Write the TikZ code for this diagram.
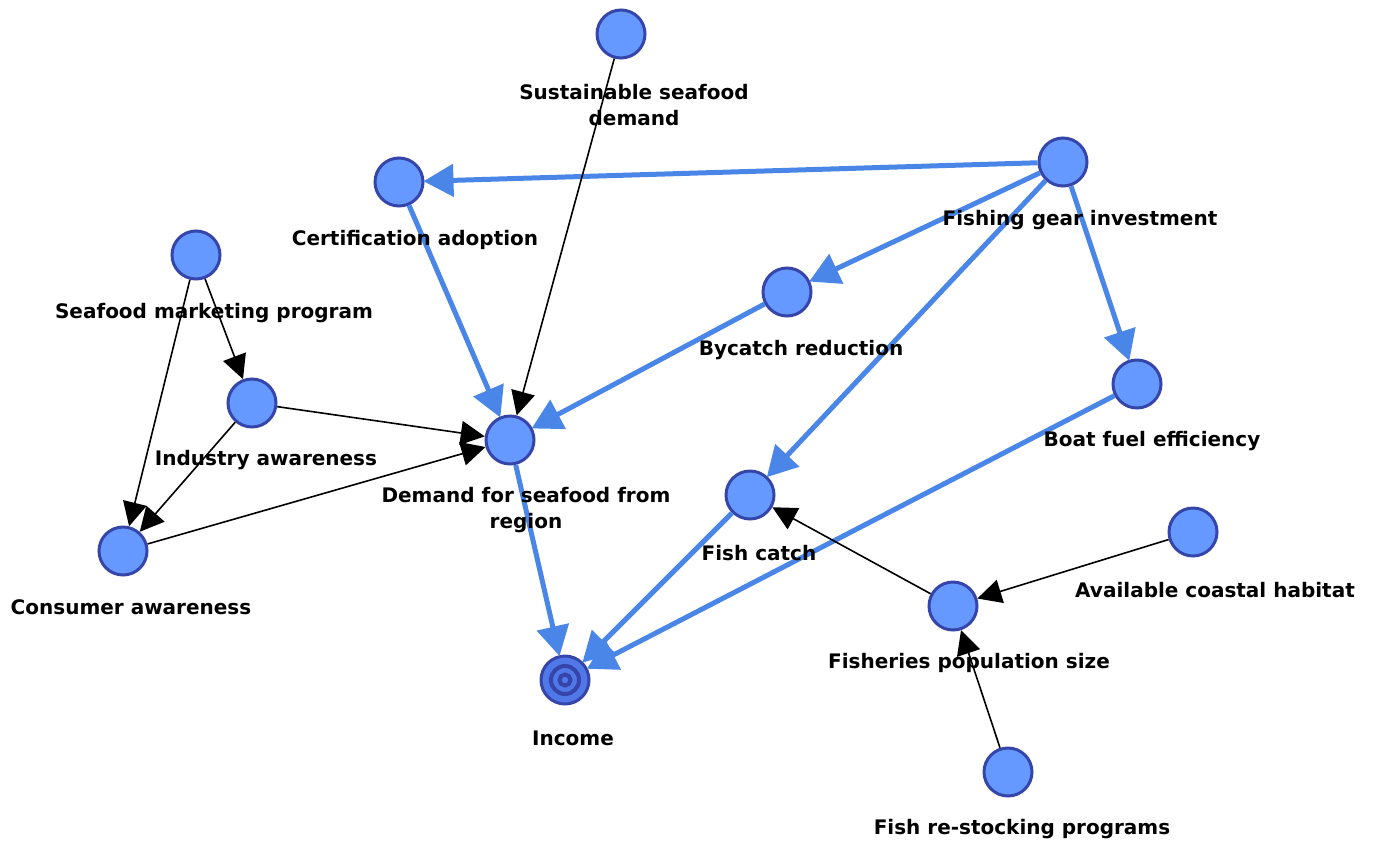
\documentclass[tikz,border=0pt]{standalone}
\usepackage{fontspec}
\setmainfont{DejaVu Sans}
\usetikzlibrary{arrows.meta}

\definecolor{nodefill}{HTML}{6699FF}
\definecolor{nodeline}{HTML}{3545AA}
\definecolor{linkblue}{HTML}{4A86E8}
\definecolor{incfill}{HTML}{5078E8}

\tikzset{
  factor/.style={draw=nodeline, fill=nodefill, circle, line width=3pt, minimum size=48pt, inner sep=0pt},
  txt/.style={font=\fontsize{20}{26}\selectfont\bfseries, align=center, inner sep=0pt},
  blu/.style={draw=linkblue, line width=5pt, -{Triangle[length=30pt,width=32pt]}, shorten >=-1pt},
  blk/.style={draw=black, line width=1.6pt, -{Triangle[length=24pt,width=24pt]}}
}

\begin{document}
\begin{tikzpicture}[x=1pt, y=-1pt]
\useasboundingbox (0,0) rectangle (1375,846);
% the factors
\node[factor] (sus) at (621,34){};
\node[factor] (cert) at (399,182){};
\node[factor] (gear) at (1063,162){};
\node[factor] (mkt) at (196,255){};
\node[factor] (byc) at (787,292){};
\node[factor] (ind) at (252,403){};
\node[factor] (dem) at (510,440){};
\node[factor] (fuel) at (1137,384){};
\node[factor] (catch) at (750,495){};
\node[factor] (hab) at (1193,532){};
\node[factor] (cons) at (123,551){};
\node[factor] (pop) at (953,606){};
\node[factor] (stock) at (1008,772){};
\node[factor, fill=incfill] (inc) at (565,680){};
\draw[nodeline, line width=4pt] (inc) circle (14pt);
\draw[nodeline, line width=4pt] (inc) circle (5.5pt);

% thick links
\draw[blu] (gear) -- (cert);
\draw[blu] (gear) -- (byc);
\draw[blu] (gear) -- (catch);
\draw[blu] (gear) -- (fuel);
\draw[blu] (cert) -- (dem);
\draw[blu] (byc) -- (dem);
\draw[blu] (dem) -- (inc);
\draw[blu] (catch) -- (inc);
\draw[blu] (fuel) -- (inc);

% thin links
\draw[blk] (sus) -- (dem);
\draw[blk] (mkt) -- (ind);
\draw[blk] (mkt) -- (cons);
\draw[blk] (ind) -- (dem);
\draw[blk] (ind) -- (cons);
\draw[blk] (cons) -- (dem);
\draw[blk] (pop) -- (catch);
\draw[blk] (hab) -- (pop);
\draw[blk] (stock) -- (pop);

% labels
\node[txt] (sus-l) at (634,105){Sustainable seafood\\demand};
\node[txt] (cert-l) at (415,240){Certification adoption};
\node[txt] (gear-l) at (1080,220){Fishing gear investment};
\node[txt] (mkt-l) at (214,313){Seafood marketing program};
\node[txt] (byc-l) at (801,350){Bycatch reduction};
\node[txt] (ind-l) at (266,460){Industry awareness};
\node[txt] (dem-l) at (526,510){Demand for seafood from\\region};
\node[txt] (fuel-l) at (1152,441){Boat fuel efficiency};
\node[txt] (catch-l) at (759,553){Fish catch};
\node[txt] (hab-l) at (1215,590){Available coastal habitat};
\node[txt] (cons-l) at (131,607){Consumer awareness};
\node[txt] (pop-l) at (969,663){Fisheries population size};
\node[txt] (inc-l) at (573,738){Income};
\node[txt] (stock-l) at (1022,829){Fish re-stocking programs};
\end{tikzpicture}
\end{document}
